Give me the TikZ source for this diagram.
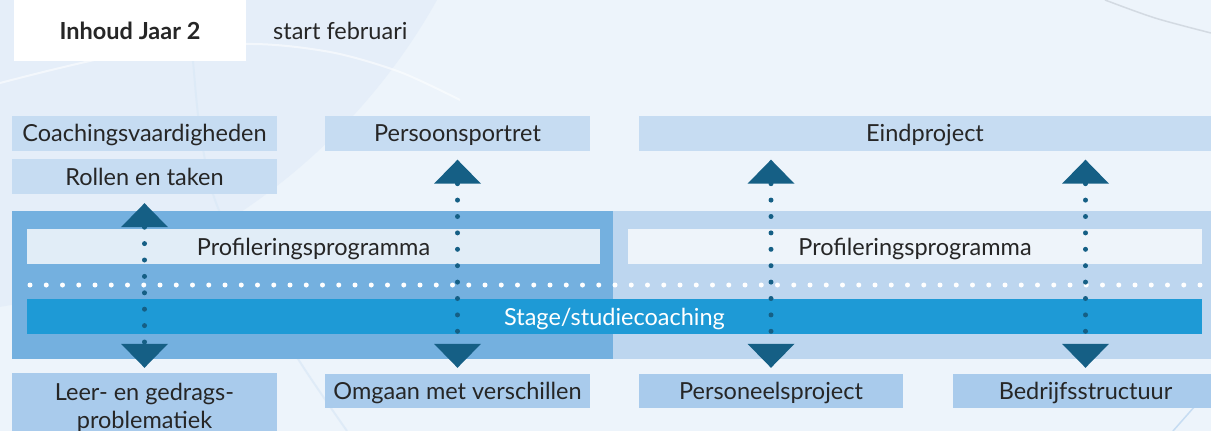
\documentclass[tikz,border=0pt]{standalone}
\usepackage{fontspec}
\setmainfont{Lato}
\usetikzlibrary{arrows.meta}
\definecolor{bg}{HTML}{EDF4FB}
\definecolor{bgdark}{HTML}{E5EEF9}
\definecolor{topc}{HTML}{C6DCF2}
\definecolor{botc}{HTML}{A9CBEC}
\definecolor{panelL}{HTML}{74B0DF}
\definecolor{panelR}{HTML}{BDD6EF}
\definecolor{profL}{HTML}{E1EDF7}
\definecolor{profR}{HTML}{EEF4FA}
\definecolor{stagec}{HTML}{1E9AD6}
\definecolor{arrc}{HTML}{155F85}
\definecolor{txtc}{HTML}{262626}
\definecolor{arcgray}{HTML}{D3DAE2}
\tikzset{
  lab/.style={font=\fontsize{23.5}{27.5}\selectfont, text=txtc, inner sep=0pt, text height=17.5pt, text depth=0pt},
  topbox/.style={lab, fill=topc, minimum height=35pt},
  botbox/.style={lab, fill=botc, minimum height=34pt},
  profbox/.style={lab, minimum height=35pt},
  panel/.style={inner sep=0pt, minimum height=148pt},
  conn/.style={draw=arrc, line width=5pt, line cap=round, dash pattern=on 0pt off 16.4pt,
    {Triangle[width=47pt,length=24pt,line width=0pt,fill=arrc]}-{Triangle[width=47pt,length=24pt,line width=0pt,fill=arrc]}},
  whitedots/.style={draw=white, line width=5pt, line cap=round, dash pattern=on 0pt off 16.25pt},
  bgarc/.style={draw=white, line width=2pt, opacity=0.55}
}
\begin{document}
\begin{tikzpicture}[x=1pt,y=-1pt]
\useasboundingbox (0,0) rectangle (1211,431);
\clip (0,0) rectangle (1211,431);
% background
\fill[bg] (0,0) rectangle (1211,431);
\fill[bgdark] (-100,-300) circle (615);
\draw[bgarc] plot[smooth] coordinates {(0,83) (120,55) (246,44) (330,52) (400,72) (460,100)};
\draw[bgarc, draw=bgdark!70!topc, opacity=0.8] plot[smooth] coordinates {(188,0) (193,61) (200,130) (215,200) (255,285) (300,362) (347,431)};
\draw[draw=arcgray, line width=1.5pt] plot[smooth] coordinates {(1105,0) (1155,18) (1211,33)};
\draw[draw=topc, line width=1.5pt] (1173,431) -- (1195,406);
% header
\node[lab, fill=white, minimum width=232pt, minimum height=61pt, font=\fontsize{23.5}{27.5}\selectfont\bfseries] (hdr) at (130,30.5) {Inhoud Jaar 2};
\node[lab, anchor=base west, text height=] (start) at (273,39.5) {start februari};
% top boxes
\node[topbox, minimum width=265pt] (coach) at (144.5,133) {Coachingsvaardigheden};
\node[topbox, minimum width=265pt] (rollen) at (144.5,176.5) {Rollen en taken};
\node[topbox, minimum width=265pt] (persoon) at (457.5,133) {Persoonsportret};
\node[topbox, minimum width=580pt] (eind) at (929,133) {};
\node[lab] (eindtxt) at (925,133) {Eindproject};
% panels
\node[panel, fill=panelL, minimum width=601pt] (pL) at (312.5,285) {};
\node[panel, fill=panelR, minimum width=607pt] (pR) at (916.5,285) {};
\node[profbox, fill=profL, minimum width=573pt] (profA) at (313.5,246.5) {Profileringsprogramma};
\node[profbox, fill=profR, minimum width=574pt] (profB) at (915,246.5) {Profileringsprogramma};
\coordinate (wdA) at (30,285);
\coordinate (wdB) at (1200.1,285);
\draw[whitedots] (wdA) -- (wdB);
\node[lab, fill=stagec, text=white, minimum width=1175pt, minimum height=35pt] (stage) at (614.5,316.5) {Stage/studiecoaching};
% bottom boxes
\node[lab, fill=botc, minimum width=265pt, minimum height=70pt, align=center, text height=, text depth=] (leer) at (144.5,408) {Leer- en gedrags-\\problematiek};
\node[botbox, minimum width=265pt] (omgaan) at (457.5,391) {Omgaan met verschillen};
\node[botbox, minimum width=264pt] (personeel) at (771,391) {Personeelsproject};
\node[botbox, minimum width=266pt] (bedrijf) at (1085.5,391) {Bedrijfsstructuur};
% connectors
\draw[conn, shorten <=9pt, shorten >=5pt] (rollen) -- (leer);
\draw[conn, shorten <=9pt, shorten >=6pt] (persoon) -- (omgaan);
\draw[conn, shorten <=9pt, shorten >=6pt] (eind.south -| personeel.north) -- (personeel.north);
\draw[conn, shorten <=9pt, shorten >=6pt] (eind.south -| bedrijf.north) -- (bedrijf.north);
\end{tikzpicture}
\end{document}
